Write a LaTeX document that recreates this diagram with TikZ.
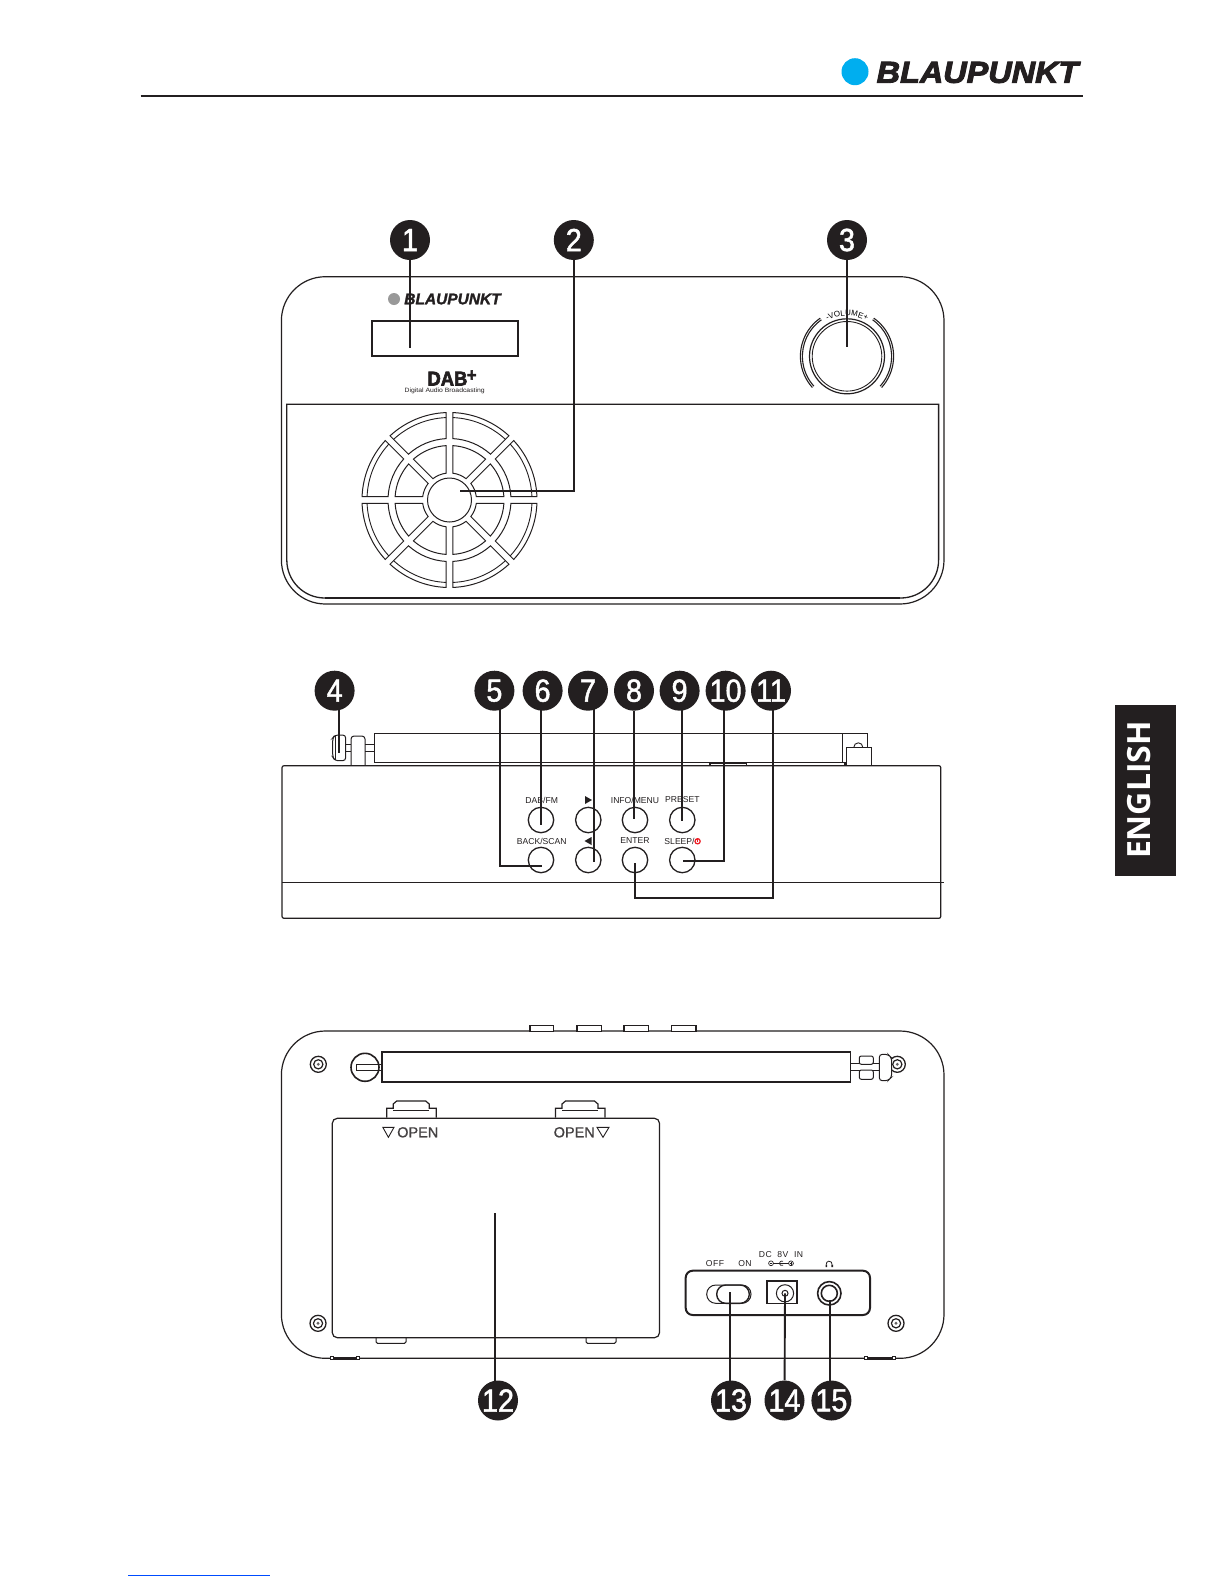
\documentclass[tikz,border=0pt]{standalone}
\usepackage{fontspec}
\usepackage{xcolor}
\setmainfont{Liberation Sans}
\newfontface\logofont{Liberation Sans Bold Italic}[FakeBold=3]
\newfontface\smallogofont{Liberation Sans Bold Italic}[FakeBold=1.5]
\newfontface\dabfont{Liberation Sans Bold}[FakeBold=3,FakeStretch=.92]
\newfontface\badgefont{Liberation Sans}[FakeBold=1.5,FakeStretch=.9]
\newfontface\openfont{Liberation Sans}[FakeBold=1]
\newfontface\spacedfont{Liberation Sans}[LetterSpace=5]
\newfontfamily\tabfont{Open Sans}
\usetikzlibrary{arrows}
\usetikzlibrary{decorations.text}
\definecolor{inkblack}{HTML}{231F20}
\definecolor{logoblue}{HTML}{00AEEF}
\definecolor{powerred}{HTML}{ED1C24}
\tikzset{
 badge/.style={circle, fill=inkblack, text=white, minimum size=40pt, inner sep=0pt, font=\badgefont\fontsize{32}{32}\selectfont},
 callout/.style={inkblack, line width=1.9pt},
 outline/.style={inkblack, line width=1.2pt},
 heavy/.style={inkblack, line width=2pt},
 button/.style={circle, draw=inkblack, line width=1.3pt, minimum size=25.4pt, inner sep=0pt},
 btnlabel/.style={inkblack, inner sep=0pt, font=\fontsize{8.6}{9}\selectfont},
 spacedlabel/.style={inkblack, inner sep=0pt, font=\spacedfont\fontsize{8.6}{9}\selectfont},
 openlabel/.style={inkblack!85, inner sep=0pt, font=\openfont\fontsize{14.5}{15}\selectfont},
}
\begin{document}
\begin{tikzpicture}[x=1pt,y=1pt]
\useasboundingbox (0,0) rectangle (1225,-1585);
\fill[white] (0,0) rectangle (1225,-1585);
\draw[heavy] (140.5,-95.7)--(1083,-95.7);
\fill[logoblue] (855,-71.7) circle (13.5);
\node[inkblack, inner sep=0pt, xscale=1.07, font=\logofont\fontsize{30.3}{31}\selectfont] (toplogo) at (977.5,-72.5) {BLAUPUNKT};
\fill[inkblack] (1115,-704.5) rectangle (1175.5,-876);
\node[white, rotate=90, inner sep=0pt, font=\tabfont\bfseries\fontsize{32}{33}\selectfont] (tablabel) at (1139.5,-790) {ENGLISH};
\draw[blue!70!cyan, line width=.8pt] (128,-1575)--(270,-1575);

\foreach \num/\xpos/\ypos in {1/410/240,2/573.8/240,3/847/240,
 4/334.6/690.7,5/494.4/690.7,6/542.6/690.7,7/588/690.7,8/634/690.7,9/679.6/690.7,10/725.6/690.7,11/771/690.7,
 12/498/1400.5,13/731/1400.5,14/784.5/1400.5,15/831.4/1400.5} {
 \node[badge] (n\num) at (\xpos,-\ypos) {\num};
}

\draw[outline, rounded corners=44pt] (281.4,-276.7) rectangle (944,-604);
\draw[outline, line width=1.3pt] (286.8,-404.3) [rounded corners=38pt] -- (286.8,-598) -- (938.6,-598) [sharp corners] -- (938.6,-404.3) -- cycle;
\draw[inkblack, line width=2pt] (325,-598)--(900,-598);
\draw[inkblack, line width=1.8pt] (371.6,-320.7) rectangle (517.6,-356.3);
\fill[gray!80] (394,-299) circle (6);
\node[inkblack, inner sep=0pt, font=\smallogofont\fontsize{15.5}{16}\selectfont] (smalllogo) at (452.5,-299) {BLAUPUNKT};
\node[inkblack, inner sep=0pt, anchor=west, font=\dabfont\fontsize{20}{20}\selectfont] (dablogo) at (427.3,-378) {DAB\kern-.5pt\raisebox{4.5pt}{\fontsize{18}{18}\selectfont +}};
\node[inkblack, inner sep=0pt, xscale=1.1, font=\fontsize{6.2}{7}\selectfont] (dabtext) at (444.7,-391) {Digital Audio Broadcasting};

\begin{scope}[shift={(847,-356.3)}]
\draw[outline] (0,0) circle (37.5);
\draw[outline, line width=.9pt] (0,0) circle (34.8);
\foreach \ra in {46.6,44.6} {
 \draw[outline, line width=1.1pt] (125:\ra) arc[start angle=125, end angle=222, radius=\ra];
 \draw[outline, line width=1.1pt] (55:\ra) arc[start angle=55, end angle=-42, radius=\ra];
}
\path[decorate, decoration={text along path, text={|\fontsize{8}{9}\selectfont|-VOLUME+}, text align=center}] (122:40.5) arc[start angle=122, end angle=58, radius=40.5];
\end{scope}

\begin{scope}[shift={(449.5,-500)}]
\draw[outline, line width=1pt] (0,0) circle (22);
\pgfmathsetmacro{\da}{asin(3.35/87.5)}
\pgfmathsetmacro{\db}{asin(3.35/82.5)}
\pgfmathsetmacro{\dc}{asin(3.35/61.5)}
\pgfmathsetmacro{\dd}{asin(3.35/54.5)}
\pgfmathsetmacro{\de}{asin(3.35/27)}
\foreach \a in {0,45,...,315} {
 \draw[outline, line width=1pt] (\a+\da:87.5) arc[start angle=\a+\da, end angle=\a+45-\da, radius=87.5] -- (\a+45-\dc:61.5) arc[start angle=\a+45-\dc, end angle=\a+\dc, radius=61.5] -- cycle;
 \draw[outline, line width=.9pt] (\a+\db:82.5) arc[start angle=\a+\db, end angle=\a+45-\db, radius=82.5];
 \draw[outline, line width=1pt] (\a+\dd:54.5) arc[start angle=\a+\dd, end angle=\a+45-\dd, radius=54.5] -- (\a+45-\de:27) arc[start angle=\a+45-\de, end angle=\a+\de, radius=27] -- cycle;
}
\end{scope}

\draw[outline, rounded corners=2pt] (282,-765.7) rectangle (940.8,-918.3);
\draw[outline, line width=1pt] (282,-882)--(944,-882);
\draw[outline] (374.3,-733.3) rectangle (842.3,-762.3);
\draw[outline] (842.3,-733.3)--(867.7,-733.3)--(867.7,-747.3);
\draw[outline] (842.3,-762.3)--(845,-762.3)--(845,-765.7);
\draw[outline] (846.7,-765.7)--(846.7,-747.3)--(871.7,-747.3)--(871.7,-765.7);
\draw[outline, line width=.9pt] (853.8,-747.3) arc[start angle=180, end angle=0, radius=4.5];
\draw[outline] (710,-765.7)--(710,-763.3)--(746.6,-763.3)--(746.6,-765.7);
\draw[outline, rounded corners=3pt, line width=1pt] (351,-765.7)--(351,-736)--(365,-736)--(365,-765.7);
\draw[outline, line width=1pt] (365,-744)--(374.3,-744) (365,-751.7)--(374.3,-751.7);
\draw[outline, line width=1pt] (345.7,-744)--(351,-744) (345.7,-751.7)--(351,-751.7);
\draw[outline, rounded corners=3pt, line width=1pt] (345.7,-735)--(335,-735)--(332.7,-738)--(332.7,-757)--(335,-760.7)--(345.7,-760.7)--cycle;
\draw[outline, line width=.8pt] (335,-736)--(335,-760);

\foreach \bt/\xpos/\ypos in {dabfm/541/820,next/588.3/820,info/635/820,preset/682.3/820,
 back/541/860,prev/588.3/860,enter/635/860,sleep/682.3/860} {
 \node[button] (\bt) at (\xpos,-\ypos) {};
}
\foreach \lab/\xpos/\ypos/\txt in {lab1/541.7/800/DAB{/}FM,lab2/635/800/INFO{/}MENU,lab3/682.3/800/PRESET,
 lab4/541.7/841/BACK{/}SCAN,lab5/635/841/ENTER} {
 \node[btnlabel] (\lab) at (\xpos,-\ypos) {\txt};
}
\node[btnlabel, anchor=east] (lab6) at (694.8,-841) {SLEEP/};
\draw[powerred, line width=1.2pt] (695.6,-839.6) arc[start angle=140, end angle=-320, radius=2.6];
\draw[powerred, line width=1.2pt] (697.3,-838)--(697.3,-841.5);
\fill[inkblack] (585,-796)--(585,-804)--(592,-800)--cycle;
\fill[inkblack] (591.5,-837)--(591.5,-845)--(584.5,-841)--cycle;

\draw[outline, rounded corners=44pt] (281.4,-1031) rectangle (944,-1358.3);
\foreach \xa/\xb in {530/553.7,577/601.5,624/648.4,671.6/696} {
 \draw[outline, fill=white] (\xa,-1031.6) rectangle (\xb,-1025.7);
}
\foreach \xa/\xb in {331.4/358,866/894} {
 \draw[inkblack, line width=3pt] (\xa,-1358)--(\xb,-1358);
 \draw[inkblack, fill=white, line width=.7pt] (\xa-1.5,-1359.5) rectangle (\xa+1.5,-1356.5);
 \draw[inkblack, fill=white, line width=.7pt] (\xb-1.5,-1359.5) rectangle (\xb+1.5,-1356.5);
}
\draw[outline, line width=1.6pt] (365,-1067.3) circle (14);
\fill[white] (381.7,-1052.3) rectangle (392,-1082.3);
\draw[outline, line width=1pt] (381.7,-1064.3)--(356.7,-1064.3)--(356.7,-1070)--(381.7,-1070);
\draw[outline, line width=1.7pt, fill=white] (850.6,-1052.3)--(381.7,-1052.3)--(381.7,-1082.3)--(850.6,-1082.3);
\draw[outline, line width=1pt] (850.6,-1052.3)--(850.6,-1082.3);
\draw[outline, line width=1pt] (850.6,-1063.3)--(880,-1063.3) (850.6,-1070.7)--(880,-1070.7);
\draw[outline, line width=1pt, rounded corners=2pt, fill=white] (859.3,-1056) rectangle (873.3,-1064.3);
\draw[outline, line width=1pt, rounded corners=2pt, fill=white] (859.3,-1070) rectangle (873.3,-1079.3);
\foreach \xpos/\ypos in {318.3/1064.3,897.3/1064.3,318/1323.3,896/1323.3} {
 \draw[outline, line width=1.3pt, fill=white] (\xpos,-\ypos) circle (8);
 \draw[outline, line width=1.2pt] (\xpos,-\ypos) circle (4.6);
 \fill[inkblack!70] (\xpos,-\ypos) circle (1.6);
}
\draw[outline, line width=1pt, rounded corners=3pt, fill=white] (879.3,-1054.3)--(888,-1054.3)--(891.7,-1058)--(891.7,-1077)--(888,-1080.7)--(879.3,-1080.7)--cycle;

\foreach \xa in {386.7,555.5} {
 \draw[outline] (\xa,-1117.7)--(\xa,-1108.3)--(\xa+6.5,-1108.3)--(\xa+6.5,-1104)--(\xa+10,-1101)--(\xa+39,-1101)--(\xa+42.5,-1104)--(\xa+42.5,-1108.3)--(\xa+49.5,-1108.3)--(\xa+49.5,-1117.7);
 \draw[outline, line width=.8pt] (\xa+6.5,-1110)--(\xa+42.5,-1110);
}
\draw[outline, rounded corners=5pt] (332.3,-1118.3) rectangle (659.5,-1337.7);
\foreach \xa/\xb in {376/406,586/616} {
 \draw[outline, line width=1pt, rounded corners=1.5pt] (\xa,-1337.7)--(\xa,-1343.3)--(\xb,-1343.3)--(\xb,-1337.7);
}
\draw[inkblack, line width=.9pt] (382.8,-1127.3)--(394,-1127.3)--(388.4,-1137.3)--cycle;
\node[openlabel, anchor=west] (open1) at (397,-1132.3) {OPEN};
\draw[inkblack, line width=.9pt] (597,-1127.3)--(609,-1127.3)--(603,-1137.3)--cycle;
\node[openlabel, anchor=east] (open2) at (595,-1132.3) {OPEN};

\draw[heavy, rounded corners=7pt] (685.7,-1270.7) rectangle (870,-1315);
\draw[outline, rounded corners=9pt, line width=1pt] (706.7,-1285) rectangle (751,-1303.3);
\draw[outline, rounded corners=9pt, line width=1.4pt] (716.7,-1285) rectangle (749.3,-1303.3);
\draw[outline, line width=1.6pt] (766.7,-1281) rectangle (796.7,-1303.3);
\draw[outline, line width=1pt] (785,-1293.3) circle (8.6);
\draw[outline, line width=1pt] (785,-1293.3) circle (3);
\draw[outline, line width=1.6pt] (829.3,-1293.3) circle (11.7);
\draw[outline, line width=1.6pt] (829.3,-1293.3) circle (8);
\node[spacedlabel] (offlab) at (715,-1264) {OFF};
\node[spacedlabel] (onlab) at (745,-1264) {ON};
\node[spacedlabel] (dclab) at (781,-1254.3) {DC\ \ 8V\ \ IN};
\draw[outline, line width=.7pt] (771,-1263.3) circle (2.4) (791,-1263.3) circle (2.4);
\draw[outline, line width=.7pt] (769.6,-1263.3)--(772.4,-1263.3) (789.6,-1263.3)--(792.4,-1263.3) (791,-1262)--(791,-1264.6);
\draw[outline, line width=.7pt] (773.4,-1263.3)--(788.6,-1263.3);
\draw[outline, line width=.7pt] (783,-1261.3) arc[start angle=60, end angle=300, radius=2.3];
\draw[outline, line width=.8pt] (826.3,-1264.5) arc[start angle=190, end angle=-10, radius=2.9];
\fill[inkblack] (825.6,-1264.5) rectangle (827.2,-1267) (831.4,-1264.5) rectangle (833,-1267);

\coordinate (end1) at (410,-348);
\coordinate (end2) at (459.6,-490.7);
\coordinate (end3) at (847,-346.7);
\coordinate (end4) at (339,-753.3);
\coordinate (end5) at (541.7,-865.7);
\coordinate (end6) at (541,-825);
\coordinate (end7) at (594.4,-861.7);
\coordinate (end8) at (634,-819.3);
\coordinate (end9) at (682,-820.7);
\coordinate (end10) at (683.3,-860.7);
\coordinate (corner11) at (635,-897.7);
\coordinate (end11) at (635,-863.3);
\coordinate (end12) at (495.3,-1213.3);
\coordinate (end13) at (730,-1291.7);
\coordinate (end14) at (785,-1293.3);
\coordinate (end15) at (830,-1300);

\draw[callout] (n1) -- (end1);
\draw[callout] (n2) |- (end2);
\draw[callout] (n3) -- (end3);
\draw[callout] ([shift={(4.4,2)}]n4.south) -- (end4);
\draw[callout] ([shift={(5.3,2)}]n5.south) |- (end5);
\draw[callout] ([shift={(-1.6,2)}]n6.south) -- (end6);
\draw[callout] ([shift={(6.4,2)}]n7.south) -- (end7);
\draw[callout] (n8) -- (end8);
\draw[callout] ([shift={(2.4,2)}]n9.south) -- (end9);
\draw[callout] ([shift={(-1.6,2)}]n10.south) |- (end10);
\draw[callout] ([shift={(2.4,2)}]n11.south) |- (corner11) -- (end11);
\draw[callout] ([shift={(-2.7,-2)}]n12.north) -- (end12);
\draw[callout] ([shift={(-1,-2)}]n13.north) -- (end13);
\draw[callout] (n14) -- (end14);
\draw[callout] ([shift={(-1.4,-2)}]n15.north) -- (end15);
\end{tikzpicture}
\end{document}
